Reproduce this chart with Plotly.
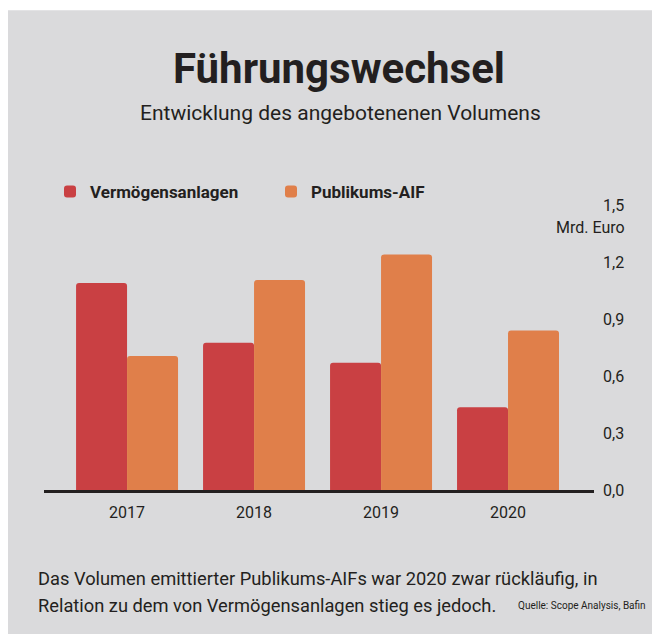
import plotly.graph_objects as go

years = ["2017", "2018", "2019", "2020"]
vermoegensanlagen = [1.09, 0.775, 0.67, 0.435]
publikums_aif = [0.705, 1.105, 1.24, 0.84]
y_ticks = [0.0, 0.3, 0.6, 0.9, 1.2, 1.5]

RED = "#c94043"
ORANGE = "#e07f4a"
BG = "#dadadc"
INK = "#231f20"
FONT = "Roboto, sans-serif"

# plot area in pixels (reference): x 44..594, y 205 (1.5) .. 490.5 (0)
PW, PH = 550.0, 285.5


def px(xr):
    return (xr - 44) / PW


def py(yr):
    return (490.5 - yr) / PH


fig = go.Figure()
fig.add_trace(go.Bar(name="Vermögensanlagen", x=years, y=vermoegensanlagen,
                     marker=dict(color=RED, cornerradius=3, line=dict(width=0))))
fig.add_trace(go.Bar(name="Publikums-AIF", x=years, y=publikums_aif,
                     marker=dict(color=ORANGE, cornerradius=3, line=dict(width=0))))

fig.update_layout(
    width=652, height=626,
    paper_bgcolor="white", plot_bgcolor=BG,
    margin=dict(l=36, r=66, t=197, b=143.5),
    barmode="group", bargap=0.197, bargroupgap=0,
    separators=",.",
    showlegend=True,
    legend=dict(orientation="h", x=px(50), y=1.0455, xanchor="left", yanchor="middle",
                font=dict(family=FONT, size=17, color=INK, weight="bold"),
                bgcolor="rgba(0,0,0,0)", entrywidth=176, entrywidthmode="pixels",
                itemclick=False, itemdoubleclick=False),
    font=dict(family=FONT, color=INK),
    shapes=[dict(type="rect", xref="paper", yref="paper", layer="below",
                 x0=px(8), x1=px(660), y0=py(640), y1=py(10),
                 fillcolor=BG, line=dict(width=0))],
    xaxis=dict(range=[-0.654, 3.677], showgrid=False, showline=True, linecolor=INK,
               linewidth=3, ticks="", tickfont=dict(family=FONT, size=16, color=INK),
               ticklabelstandoff=6, fixedrange=True),
    yaxis=dict(side="right", range=[0, 1.5], tickvals=y_ticks, tickformat=".1f",
               showgrid=False, zeroline=False, showline=False, ticks="",
               tickfont=dict(family=FONT, size=16, color=INK), ticklabelstandoff=8,
               fixedrange=True),
    annotations=[
        dict(text="<b>Führungswechsel</b>", xref="paper", yref="paper", x=px(339),
             y=py(68), showarrow=False, xanchor="center", yanchor="middle",
             font=dict(family=FONT, size=42, color=INK, weight=900)),
        dict(text="Entwicklung des angebotenenen Volumens", xref="paper", yref="paper",
             x=px(340), y=py(113), showarrow=False, xanchor="center",
             yanchor="middle", font=dict(family=FONT, size=21, color=INK)),
        dict(text="Mrd. Euro", xref="paper", yref="paper", x=px(627),
             y=py(228), showarrow=False, xanchor="right", yanchor="middle",
             font=dict(family=FONT, size=16, color=INK)),
        dict(text="Das Volumen emittierter Publikums-AIFs war 2020 zwar rückläufig, in",
             xref="paper", yref="paper", x=px(36), y=py(579), showarrow=False,
             xanchor="left", yanchor="middle", font=dict(family=FONT, size=18.3, color=INK)),
        dict(text="Relation zu dem von Vermögensanlagen stieg es jedoch.",
             xref="paper", yref="paper", x=px(36), y=py(606), showarrow=False,
             xanchor="left", yanchor="middle", font=dict(family=FONT, size=18.3, color=INK)),
        dict(text="Quelle: Scope Analysis, Bafin",
             xref="paper", yref="paper", x=px(648), y=py(606),
             showarrow=False, xanchor="right", yanchor="middle",
             font=dict(family=FONT, size=10, color=INK)),
    ],
)

fig.write_html("out.html")
